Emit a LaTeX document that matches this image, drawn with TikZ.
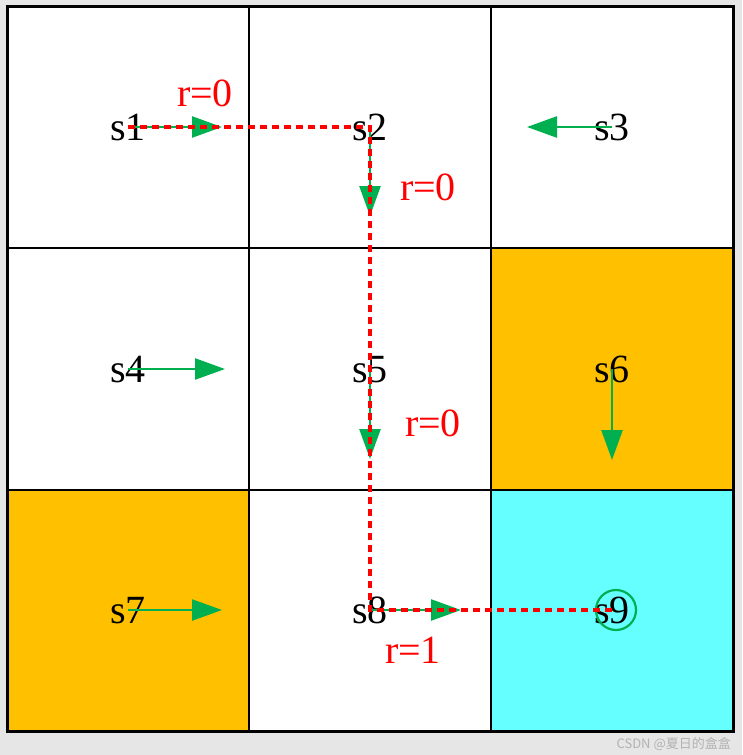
\documentclass[tikz,border=0pt]{standalone}
\usepackage{fontspec}
\setmainfont{Liberation Serif}
\newfontfamily\cjkfont{Noto Sans CJK SC}
\usetikzlibrary{arrows.meta}
\definecolor{pgreen}{HTML}{00B050}
\definecolor{porange}{HTML}{FFC000}
\definecolor{pcyan}{HTML}{66FFFF}
\definecolor{bggray}{HTML}{E6E6E6}
\tikzset{
  state/.style={font=\fontsize{40}{40}\selectfont, text=black, anchor=base, inner sep=0pt},
  rlab/.style={font=\fontsize{40}{40}\selectfont, text=red, anchor=base, inner sep=0pt},
  act/.style={draw=pgreen, line width=2.5pt, -{Triangle[length=30pt,width=21pt]}},
  traj/.style={draw=red, line width=3.8pt, dash pattern=on 7pt off 5pt},
  gridline/.style={draw=black, line width=2.2pt}
}
\begin{document}
\begin{tikzpicture}[x=1pt,y=-1pt]
\fill[bggray] (0,0) rectangle (742,755);
\useasboundingbox (0,0) rectangle (742,755);
\fill[white] (7,6) rectangle (733,731);
\fill[porange] (491,248) rectangle (733,490);
\fill[porange] (7,490) rectangle (249,731);
\fill[pcyan] (491,490) rectangle (733,731);
\draw[gridline] (249,6) -- (249,731);
\draw[gridline] (491,6) -- (491,731);
\draw[gridline] (7,248) -- (733,248);
\draw[gridline] (7,490) -- (733,490);
\draw[black, line width=3pt] (7,6) rectangle (733,731);
% state centres
\coordinate (c1) at (128,127);
\coordinate (c2) at (370,127);
\coordinate (c3) at (612,127);
\coordinate (c4) at (128,369);
\coordinate (c5) at (370,369);
\coordinate (c6) at (612,369);
\coordinate (c7) at (128,610);
\coordinate (c8) at (370,610);
\coordinate (c9) at (612,610);
% labels
\node[state] (s1) at (128,140) {s1};
\node[state] (s2) at (370,140) {s2};
\node[state] (s3) at (612,140) {s3};
\node[state] (s4) at (128,382) {s4};
\node[state] (s5) at (370,382) {s5};
\node[state] (s6) at (612,382) {s6};
\node[state] (s7) at (128,623) {s7};
\node[state] (s8) at (370,623) {s8};
\node[state] (s9) at (612,623) {s9};
% action end points
\coordinate (e1) at (222,127);
\coordinate (e2) at (370,216);
\coordinate (e3) at (527,127);
\coordinate (e4) at (225,369);
\coordinate (e5) at (370,459);
\coordinate (e6) at (612,460);
\coordinate (e7) at (222,610);
\coordinate (e8) at (461,610);
\draw[act] (c1) -- (e1);
\draw[act] (c2) -- (e2);
\draw[act] (c3) -- (e3);
\draw[act] (c4) -- (e4);
\draw[act] (c5) -- (e5);
\draw[act] (c6) -- (e6);
\draw[act] (c7) -- (e7);
\draw[act] (c8) -- (e8);
\draw[pgreen, line width=2.2pt] (616,610) circle[radius=20];
% trajectory
\draw[traj] (c1) -- (c2) -- (c5) -- (c8) -- (c9);
% rewards
\node[rlab] (r1) at (205,106) {r=0};
\node[rlab] (r2) at (428,200) {r=0};
\node[rlab] (r3) at (433,436) {r=0};
\node[rlab] (r4) at (413,663) {r=1};
% watermark
\node[anchor=base east, inner sep=0pt, text=black!30, font=\cjkfont\fontsize{13}{13}\selectfont] (wm) at (731,748) {CSDN @夏日的盒盒};
\end{tikzpicture}
\end{document}
